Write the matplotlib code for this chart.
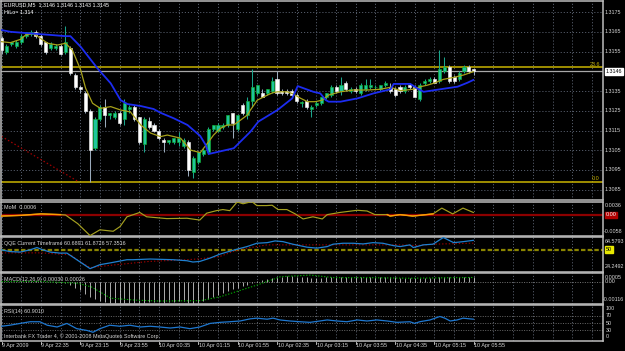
import matplotlib
matplotlib.use("Agg")
import matplotlib.pyplot as plt
import numpy as np

plt.rcParams['font.family'] = ['Liberation Sans', 'DejaVu Sans']

# ---------------- data ----------------
time_labels = ["9 Apr 2009", "9 Apr 22:35", "9 Apr 23:15", "9 Apr 23:55", "10 Apr 00:35",
               "10 Apr 01:15", "10 Apr 01:55", "10 Apr 02:35", "10 Apr 03:15", "10 Apr 03:55",
               "10 Apr 04:35", "10 Apr 05:15", "10 Apr 05:55"]
label_bars = [0, 8, 16, 24, 32, 40, 48, 56, 64, 72, 80, 88, 96]

opens = [1.3162, 1.3155, 1.3159, 1.3158, 1.3160, 1.3163, 1.3164, 1.3165, 1.3163, 1.3160,
         1.3157, 1.3157, 1.3158, 1.3155, 1.3157, 1.3143, 1.3137, 1.3134, 1.3125, 1.3106,
         1.3121, 1.3127, 1.3123, 1.3122, 1.3124, 1.3121, 1.3126, 1.3127, 1.3122, 1.3108,
         1.3120, 1.3118, 1.3115, 1.3110, 1.3109, 1.3109, 1.3109, 1.3107, 1.3109, 1.3094,
         1.3099, 1.3103, 1.3104, 1.3116, 1.3115, 1.3117, 1.3118, 1.3124, 1.3116, 1.3128,
         1.3123, 1.3130, 1.3134, 1.3134, 1.3134, 1.3135, 1.3141, 1.3135, 1.3135, 1.3135,
         1.3133, 1.3129, 1.3130, 1.3126, 1.3128, 1.3129, 1.3132, 1.3133, 1.3137, 1.3135,
         1.3139, 1.3135, 1.3136, 1.3134, 1.3136, 1.3137, 1.3137, 1.3136, 1.3138, 1.3137,
         1.3136, 1.3137, 1.3135, 1.3138, 1.3137, 1.3131, 1.3139, 1.3140, 1.3141, 1.3140,
         1.3145, 1.3147, 1.3142, 1.3141, 1.3145, 1.3147, 1.3146]
highs = [1.3163, 1.3159, 1.3160, 1.3161, 1.3164, 1.3165, 1.3166, 1.3166, 1.3164, 1.3160,
         1.3160, 1.3159, 1.3159, 1.3168, 1.3158, 1.3144, 1.3138, 1.3135, 1.3126, 1.3122,
         1.3128, 1.3131, 1.3124, 1.3125, 1.3125, 1.3131, 1.3128, 1.3128, 1.3122, 1.3122,
         1.3122, 1.3119, 1.3116, 1.3111, 1.3110, 1.3111, 1.3114, 1.3111, 1.3110, 1.3102,
         1.3104, 1.3106, 1.3117, 1.3118, 1.3119, 1.3119, 1.3123, 1.3124, 1.3123, 1.3129,
         1.3132, 1.3146, 1.3138, 1.3136, 1.3136, 1.3142, 1.3145, 1.3136, 1.3136, 1.3136,
         1.3134, 1.3130, 1.3131, 1.3128, 1.3130, 1.3132, 1.3134, 1.3138, 1.3138, 1.3142,
         1.3140, 1.3137, 1.3137, 1.3139, 1.3141, 1.3141, 1.3138, 1.3138, 1.3140, 1.3139,
         1.3137, 1.3138, 1.3138, 1.3139, 1.3138, 1.3139, 1.3141, 1.3142, 1.3142, 1.3156,
         1.3152, 1.3148, 1.3143, 1.3145, 1.3148, 1.3148, 1.3146]
lows = [1.3154, 1.3154, 1.3158, 1.3157, 1.3159, 1.3162, 1.3163, 1.3162, 1.3158, 1.3154,
        1.3156, 1.3156, 1.3153, 1.3154, 1.3143, 1.3136, 1.3134, 1.3124, 1.3089, 1.3105,
        1.3120, 1.3117, 1.3121, 1.3121, 1.3118, 1.3118, 1.3124, 1.3120, 1.3108, 1.3104,
        1.3116, 1.3114, 1.3110, 1.3104, 1.3108, 1.3108, 1.3107, 1.3106, 1.3092, 1.3091,
        1.3098, 1.3102, 1.3103, 1.3115, 1.3114, 1.3116, 1.3117, 1.3111, 1.3115, 1.3123,
        1.3121, 1.3127, 1.3133, 1.3132, 1.3133, 1.3134, 1.3133, 1.3133, 1.3133, 1.3132,
        1.3129, 1.3127, 1.3126, 1.3122, 1.3127, 1.3128, 1.3131, 1.3132, 1.3134, 1.3133,
        1.3135, 1.3134, 1.3134, 1.3133, 1.3135, 1.3136, 1.3136, 1.3135, 1.3137, 1.3134,
        1.3132, 1.3134, 1.3134, 1.3136, 1.3132, 1.3130, 1.3138, 1.3139, 1.3139, 1.3139,
        1.3144, 1.3139, 1.3139, 1.3140, 1.3144, 1.3144, 1.3143]
closes = [1.3156, 1.3158, 1.3160, 1.3160, 1.3163, 1.3165, 1.3165, 1.3163, 1.3159, 1.3155,
          1.3159, 1.3158, 1.3154, 1.3160, 1.3144, 1.3137, 1.3136, 1.3125, 1.3105, 1.3121,
          1.3127, 1.3123, 1.3124, 1.3124, 1.3119, 1.3129, 1.3127, 1.3121, 1.3109, 1.3121,
          1.3117, 1.3115, 1.3111, 1.3109, 1.3110, 1.3111, 1.3111, 1.3110, 1.3095, 1.3101,
          1.3104, 1.3105, 1.3116, 1.3118, 1.3118, 1.3118, 1.3123, 1.3119, 1.3123, 1.3124,
          1.3130, 1.3137, 1.3138, 1.3132, 1.3136, 1.3140, 1.3134, 1.3134, 1.3134, 1.3133,
          1.3130, 1.3129, 1.3127, 1.3127, 1.3129, 1.3132, 1.3134, 1.3137, 1.3135, 1.3138,
          1.3136, 1.3136, 1.3135, 1.3138, 1.3138, 1.3138, 1.3137, 1.3138, 1.3139, 1.3135,
          1.3133, 1.3135, 1.3137, 1.3137, 1.3132, 1.3138, 1.3140, 1.3141, 1.3139, 1.3146,
          1.3147, 1.3140, 1.3140, 1.3144, 1.3147, 1.3145, 1.3145]

ma_bar = [0, 1.8, 3.9, 4.9, 6.5, 7.9, 9.4, 11.4, 13, 14.4, 16.1, 17.1, 18.5, 20.1, 22.2, 24.2,
          26.2, 28.3, 30.3, 32.3, 33.7, 36.4, 38.4, 40.4, 42.1, 43.1, 44.5, 45.9, 47.2, 48.6,
          50, 50.6, 52, 54.1, 55.1, 56.1, 58.1, 59.3, 60.8, 62.2, 63.8, 65.2, 66.5, 68.9, 71.5,
          74.4, 77, 79.1, 81.1, 83.7, 85.2, 86.6, 87.8, 89.8, 91.9, 93.9, 95.9]
ma_val = [1.31600, 1.31595, 1.31612, 1.31634, 1.31642, 1.31617, 1.31592, 1.31583, 1.31592,
          1.31558, 1.31456, 1.31364, 1.31288, 1.31262, 1.31271, 1.31254, 1.31244, 1.31178,
          1.31137, 1.31119, 1.31127, 1.31111, 1.31051, 1.31038, 1.31093, 1.31127, 1.31161,
          1.31178, 1.31178, 1.31203, 1.31229, 1.31254, 1.31304, 1.31330, 1.31341, 1.31346,
          1.31346, 1.31335, 1.31313, 1.31296, 1.31296, 1.31304, 1.31330, 1.31346, 1.31355,
          1.31355, 1.31359, 1.31369, 1.31352, 1.31359, 1.31372, 1.31380, 1.31389, 1.31409,
          1.31419, 1.31431, 1.31448]

hilo_bar = [0, 1.8, 5.9, 10, 13, 14, 16.1, 19.5, 22.2, 24.2, 25.6, 28.3, 30.9, 32.3, 35, 37.8,
            40.4, 41.5, 42.1, 47.2, 50.6, 52.2, 56.1, 59.1, 60.2, 63.4, 64.8, 65.9, 66.5, 68.9,
            72.4, 75.6, 79.1, 79.7, 83.1, 84.8, 85.8, 89.2, 92.7, 94.7, 95.9]
hilo_val = [1.31659, 1.31650, 1.31642, 1.31634, 1.31628, 1.31628, 1.31574, 1.31465, 1.31389,
            1.31304, 1.31284, 1.31274, 1.31259, 1.31240, 1.31212, 1.31178, 1.31122, 1.31077,
            1.31031, 1.31060, 1.31144, 1.31195, 1.31254, 1.31313, 1.31375, 1.31346, 1.31338,
            1.31304, 1.31296, 1.31296, 1.31313, 1.31338, 1.31359, 1.31386, 1.31386, 1.31359,
            1.31346, 1.31359, 1.31372, 1.31392, 1.31406]

fib_levels = [1.3089, 1.3147]
fib_names = ["0.0", "23.6"]
fib_trend_bar = [0, 15.7]
fib_trend_val = [1.3112, 1.3089]
bid_price = 1.3145
price_ticks = [1.3175, 1.3165, 1.3155, 1.3135, 1.3125, 1.3115, 1.3105, 1.3095, 1.3085]
price_labels = ["1.3175", "1.3165", "1.3155", "1.3135", "1.3125", "1.3115", "1.3105",
                "1.3095", "1.3085"]
grid_prices = [1.3175, 1.3165, 1.3155, 1.3145, 1.3135, 1.3125, 1.3115, 1.3105, 1.3095, 1.3085]
price_range = (1.30798, 1.31806)

mom_bar = [0, 4, 8, 12, 13, 15.5, 18, 20, 22.7, 24.1, 25.5, 28.1, 29.5, 33.6, 37.7, 40.3, 41.7,
           43.7, 45, 46.4, 47.9, 49.1, 50.9, 51.9, 53.9, 55, 56.2, 58, 59.7, 61.3, 63.3, 65.2,
           66.2, 68.8, 72.3, 74.3, 75.9, 78.4, 79, 81, 83.6, 87.7, 89.5, 91.7, 93.8, 95.9]
mom_val = [-0.0004, -0.0002, 0.0002, 0.0, -0.0001, -0.0025, -0.0058, -0.0042, -0.0046,
           -0.0033, -0.0006, 0.0006, -0.0006, -0.0011, -0.0010, -0.0015, 0.0004, 0.0011,
           0.0014, 0.0011, 0.0035, 0.0030, 0.0036, 0.0025, 0.0025, 0.0026, 0.0014, 0.0014,
           0.0002, -0.0012, -0.0006, -0.0012, 0.0000, 0.0006, 0.0012, 0.0010, 0.0000, 0.0000,
           -0.0004, 0.0000, -0.0004, 0.0002, 0.0018, 0.0002, 0.0018, 0.0006]
mom_range = (-0.0058, 0.0036)

qqe_bar = [0, 1.7, 3.8, 5.8, 7.2, 8.4, 9.9, 11.9, 13.3, 15.3, 18, 20, 22, 25.5, 26.7, 30.2,
           34.9, 37.7, 38.9, 40.3, 42.4, 44.4, 45.8, 47.9, 49.9, 51.9, 54, 55.6, 57.2, 59.2,
           62.1, 64.1, 66.2, 67.4, 69.4, 71.5, 73.5, 75.5, 77.5, 79.6, 81, 83, 83.7, 85.7,
           87.7, 89.8, 91.9, 93.9, 95.9]
qqe_rsi = [49.6, 47.6, 47.0, 49.6, 52.3, 49.6, 47.0, 45.8, 45.8, 38.1, 27.7, 32.3, 34.3, 38.1,
           38.1, 38.9, 38.1, 36.9, 35.4, 36.1, 40.0, 44.6, 47.0, 50.4, 53.4, 57.3, 58.0, 60.0,
           59.2, 56.2, 52.7, 51.6, 53.4, 56.2, 57.3, 57.3, 56.5, 58.0, 57.3, 54.6, 53.4, 55.4,
           52.3, 55.4, 56.2, 64.0, 58.0, 59.2, 60.7]
trail_bar = [0, 8, 14, 16, 18, 22, 30, 37.7, 40.3, 44.4, 47, 49.9, 54, 60.7, 70.8, 77.5, 81,
             84.4, 87.7, 95.9]
trail_val = [46.1, 46.1, 43.8, 35.8, 28.9, 31.5, 36.1, 38.1, 39.2, 41.9, 47.6, 51.6, 55.4,
             55.4, 55.4, 55.4, 55.4, 54.6, 56.2, 57.4]
qqe_range = (24.2492, 64.5793)

macd_vals = [0.00003, 0.00002, 0.00002, 0.00003, 0.00004, 0.00005, 0.00006, 0.00005, 0.00004,
             0.00001, 0.0, -0.00001, -0.00002, -0.00005, -0.00015, -0.00030, -0.00042,
             -0.00060, -0.00080, -0.00090, -0.00098, -0.00104, -0.00108, -0.00110, -0.00113,
             -0.00110, -0.00108, -0.00108, -0.00112, -0.00108, -0.00106, -0.00105, -0.00106,
             -0.00108, -0.00106, -0.00104, -0.00102, -0.00100, -0.00112, -0.00116, -0.00110,
             -0.00102, -0.00088, -0.00078, -0.00068, -0.00058, -0.00046, -0.00038, -0.00028,
             -0.00022, -0.00012, -0.00002, 0.00006, 0.00012, 0.00018, 0.00024, 0.00028,
             0.00030, 0.00032, 0.00032, 0.00030, 0.00028, 0.00026, 0.00024, 0.00024, 0.00025,
             0.00026, 0.00028, 0.00028, 0.00030, 0.00030, 0.00029, 0.00028, 0.00029, 0.00030,
             0.00030, 0.00030, 0.00030, 0.00030, 0.00029, 0.00026, 0.00024, 0.00024, 0.00024,
             0.00021, 0.00022, 0.00023, 0.00024, 0.00024, 0.00028, 0.00031, 0.00030, 0.00029,
             0.00029, 0.00030, 0.00030, 0.00030]
signal_bar = [0, 8, 15.5, 18.3, 22.2, 27, 32, 40.5, 44.5, 52, 56.7, 62.8, 67.5, 74.4, 83.1, 95.9]
signal_val = [0.00004, 0.00005, -0.00005, -0.00025, -0.00085, -0.00095, -0.00100, -0.00098,
              -0.00077, -0.00014, 0.00030, 0.00039, 0.00025, 0.00025, 0.00022, 0.00026]
macd_range = (-0.00116, 0.0005)

rsi_bar = [0, 1.7, 3.8, 5.8, 7.8, 9.3, 11.3, 13.3, 15.3, 17.4, 18.6, 20, 22, 24.1, 26.1, 28.2,
           30.2, 32.2, 34.3, 36.3, 38.3, 40.3, 42.4, 44.4, 46.4, 48.5, 50.5, 51.9, 54, 55.2,
           56.6, 58.6, 60.7, 62.7, 64.7, 66.2, 68.2, 70.2, 72.3, 74.3, 76.3, 78.4, 80.4, 83,
           84, 85, 87.1, 89.1, 90.1, 91.2, 92.6, 93.8, 95.9]
rsi_val = [41.2, 44.1, 49.1, 53.8, 53.8, 44.1, 39.1, 49.1, 34.4, 29.4, 24.4, 34.4, 44.1, 41.2,
           44.1, 39.1, 41.2, 39.1, 36.2, 39.1, 34.4, 39.1, 49.1, 52.1, 53.8, 55.9, 61.8, 63.8,
           60.9, 63.8, 58.8, 55.9, 53.8, 52.1, 55.9, 58.8, 55.9, 53.8, 58.8, 55.9, 58.8, 55.9,
           52.1, 53.8, 49.1, 53.8, 58.8, 68.5, 63.8, 55.9, 58.8, 63.8, 60.9]
rsi_levels = [70, 50, 30]

# ---------------- layout ----------------
W, H = 625, 351
XL, XR = 1, 603
PX_BAR = 4.92
X0_PX = 1.5
xlim = ((XL - X0_PX) / PX_BAR, (XR - X0_PX) / PX_BAR)

fig = plt.figure(figsize=(W / 100, H / 100), dpi=100, facecolor='black')

GRID_C = '#6a7384'
BORDER_C = '#bdbdbd'


def panel(top, bottom, ylim):
    ax = fig.add_axes([XL / W, 1 - bottom / H, (XR - XL) / W, (bottom - top) / H])
    ax.set_facecolor('black')
    ax.set_xlim(*xlim)
    ax.set_ylim(*ylim)
    ax.set_xticks([])
    ax.set_yticks([])
    for s in ax.spines.values():
        s.set_color(BORDER_C)
        s.set_linewidth(1.1)
    for gx in np.arange(0, xlim[1], 4):
        ax.axvline(gx, color=GRID_C, lw=0.55, ls=(0, (1.5, 2.5)), zorder=0)
    return ax


ax_main = panel(1, 200, price_range)
ax_mom = panel(201.6, 235.6, mom_range)
ax_qqe = panel(237, 271.6, qqe_range)
ax_macd = panel(273, 304, macd_range)
ax_rsi = panel(305.2, 341, (0, 100))

# ---- main chart ----
for gp in grid_prices:
    ax_main.axhline(gp, color=GRID_C, lw=0.55, ls=(0, (1.5, 2.5)), zorder=0)

o = np.array(opens); h = np.array(highs); l = np.array(lows); c = np.array(closes)
idx = np.arange(len(o))
up = c >= o
dn = ~up
ax_main.vlines(idx[up], l[up], h[up], color='#1aa58c', lw=0.75, zorder=3)
ax_main.vlines(idx[dn], l[dn], h[dn], color='#9aaabb', lw=0.75, zorder=3)
ax_main.bar(idx[up], np.maximum(c[up] - o[up], 0.00002), bottom=o[up], width=0.62,
            color='#1fc49c', edgecolor='#10b030', lw=0.45, zorder=4)
ax_main.bar(idx[dn], o[dn] - c[dn], bottom=c[dn], width=0.62,
            color='white', edgecolor='#e8e8e8', lw=0.45, zorder=4)

ax_main.plot(ma_bar, ma_val, color='#a7a11a', lw=0.9, zorder=5)
ax_main.plot(hilo_bar, hilo_val, color='#1c2cf0', lw=1.3, zorder=5)

for lv in fib_levels:
    ax_main.axhline(lv, color='#c9b400', lw=1.1, zorder=2)
ax_main.axhline(bid_price, color='#a8a8a8', lw=0.9, zorder=2)
ax_main.plot(fib_trend_bar, fib_trend_val, color='#a00000', lw=0.9, ls=(0, (1.2, 1.8)), zorder=2)

# ---- MoM ----
ax_mom.axhline(0, color='#8c0000', lw=1.6, zorder=1)
ax_mom.plot(mom_bar, mom_val, color='#a5a020', lw=0.85, zorder=3)
mb = np.array(mom_bar); mv = np.array(mom_val)
for a, b in [(0, 12.5), (65.5, 67), (77, 88)]:
    sel = (mb >= a) & (mb <= b)
    ax_mom.plot(mb[sel], mv[sel], color='#ff9a00', lw=1.0, zorder=4)

# ---- QQE ----
ax_qqe.axhline(50, color='#8a8400', lw=1.6, ls=(0, (2, 1)), zorder=1)
ax_qqe.plot(trail_bar, trail_val, color='#a00000', lw=0.8, ls=(0, (1.2, 1.8)), zorder=2)
ax_qqe.plot(qqe_bar, qqe_rsi, color='#1f80d0', lw=0.9, zorder=3)

# ---- MACD ----
ax_macd.axhline(0, color='#9a9a9a', lw=0.5, ls=(0, (1.5, 2)), zorder=1)
mvals = np.array(macd_vals)
ax_macd.vlines(idx, 0, mvals, color='#c8c8c8', lw=0.6, zorder=2)
ax_macd.plot(signal_bar, signal_val, color='#00a800', lw=0.8, ls=(0, (1.2, 1.5)), zorder=3)

# ---- RSI ----
for lv in rsi_levels:
    ax_rsi.axhline(lv, color='#8a8a8a', lw=0.5, ls=(0, (1.5, 2)), zorder=1)
ax_rsi.plot(rsi_bar, rsi_val, color='#1f78d0', lw=0.9, zorder=3)

# ---------------- text overlay (pixel coordinates) ----------------
tx = fig.add_axes([0, 0, 1, 1])
tx.set_xlim(0, W)
tx.set_ylim(H, 0)
tx.axis('off')
tx.set_zorder(10)
FS = 3.9
LBL = '#d6d6d6'
RX = 605


def txt(x, y, s, color=LBL, ha='left', **kw):
    tx.text(x, y, s, color=color, ha=ha, va='center', fontsize=FS, **kw)


def py(ax, v):
    disp = ax.transData.transform((0, v))
    return H - disp[1] * H / (fig.get_figheight() * fig.dpi)


txt(4, 4.3, "EURUSD,M5  1.3146 1.3146 1.3143 1.3145", color='white')
txt(4, 12.3, "HiLo= 1.314", color='white')

for p, s in zip(price_ticks, price_labels):
    txt(RX, py(ax_main, p), s)
yb = py(ax_main, bid_price)
tx.text(RX + 0.5, yb, "1.3146", color='black', ha='left', va='center', fontsize=FS,
        bbox=dict(boxstyle='square,pad=0.15', fc='white', ec='white'))
for lv, nm in zip(fib_levels, fib_names):
    txt(600, py(ax_main, lv) - 3.3, nm, color='#c9b400', ha='right')

# MoM
txt(4, 207.5, "MoM  0.0006")
txt(RX, 205.5, "0.0036")
tx.text(RX + 1, py(ax_mom, 0), "0.00", color='white', ha='left', va='center', fontsize=FS,
        bbox=dict(boxstyle='square,pad=0.1', fc='#b00000', ec='#b00000'))
txt(RX - 1.5, 231.5, "-0.0058")

# QQE
txt(4, 243.3, "QQE Current Timeframe 60.6891 61.8726 57.3516")
txt(RX, 241.5, "64.5793")
tx.text(RX + 1, py(ax_qqe, 50), "50", color='black', ha='left', va='center', fontsize=FS,
        bbox=dict(boxstyle='square,pad=0.1', fc='#e8e800', ec='#e8e800'))
txt(RX, 267, "24.2492")

# MACD
txt(4, 279, "MACD(12,26,9) 0.00030 0.00026")
txt(RX, 277.3, "0.0005")
txt(RX, 281.3, "0.00")
txt(RX - 2, 299.5, "-0.00116")

# RSI
txt(4, 311.5, "RSI(14) 60.9010")
for v, s in [(100, "100"), (70, "70"), (50, "50"), (30, "30"), (0, "0")]:
    yy = py(ax_rsi, v)
    yy = min(max(yy, 308.5), 337)
    txt(RX + 1, yy, s)
txt(4, 336, "Interbank FX Trader 4, \u00a9 2001-2008 MetaQuotes Software Corp.")

# time axis
for b, s in zip(label_bars, time_labels):
    xp = X0_PX + b * PX_BAR
    tx.plot([xp, xp], [341.5, 344], color=LBL, lw=0.6)
    txt(xp + 0.5, 346, s)

fig.savefig("out.png", dpi=100, facecolor='black')
